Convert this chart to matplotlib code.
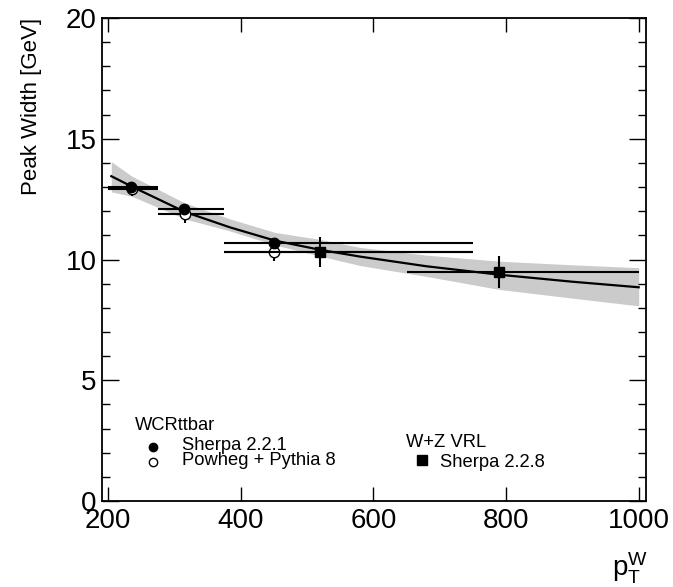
import matplotlib
matplotlib.use("Agg")
import matplotlib.pyplot as plt
from matplotlib.ticker import MultipleLocator, FixedLocator

plt.rcParams['font.family'] = ['Liberation Sans', 'DejaVu Sans']
plt.rcParams['mathtext.fontset'] = 'custom'
plt.rcParams['mathtext.rm'] = 'Liberation Sans'
plt.rcParams['mathtext.it'] = 'Liberation Sans'

# --- data -------------------------------------------------------------
# WCRttbar, Sherpa 2.2.1
sherpa221_x = [235, 315, 450]
sherpa221_y = [13.0, 12.1, 10.7]
sherpa221_yerr = [0.12, 0.15, 0.12]
# WCRttbar, Powheg + Pythia 8
powheg_x = [236, 316, 451]
powheg_y = [12.9, 11.88, 10.3]
powheg_yerr = [0.25, 0.35, 0.35]
# pT bins of the WCRttbar points
ttbar_bin_lo = [200, 275, 375]
ttbar_bin_hi = [275, 375, 750]

# W+Z VRL, Sherpa 2.2.8
sherpa228_x = [520, 790]
sherpa228_y = [10.3, 9.48]
sherpa228_yerr = [0.62, 0.67]
wz_bin_lo = [375, 650]
wz_bin_hi = [750, 1000]

# fitted peak-width curve and its uncertainty band
fit_x = [205, 236, 316, 384, 452, 520, 580, 680, 790, 900, 1000]
fit_y = [13.45, 13.02, 11.97, 11.33, 10.78, 10.40, 10.12, 9.72, 9.37, 9.08, 8.85]
band_hi = [14.05, 13.45, 12.34, 11.68, 11.12, 10.83, 10.50, 10.18, 9.93, 9.78, 9.66]
band_lo = [12.80, 12.62, 11.68, 11.18, 10.60, 10.14, 9.75, 9.30, 8.76, 8.40, 8.08]

x_ticks = [200, 400, 600, 800, 1000]

# --- figure -----------------------------------------------------------
W, H = 673, 587
fig = plt.figure(figsize=(W / 100, H / 100), dpi=100)
ax = fig.add_axes([102 / W, 1 - 501 / H, 544 / W, 483 / H])


def fx(px):
    return px / W


def fy(py):
    return 1 - py / H


ax.fill_between(fit_x, band_lo, band_hi, color='#cbcbcb', lw=0, zorder=1)
ax.plot(fit_x, fit_y, color='black', lw=1.6, zorder=2)


def xerr_of(xs, lo, hi):
    return [[x - l for x, l in zip(xs, lo)], [h - x for x, h in zip(xs, hi)]]


ax.errorbar(powheg_x, powheg_y, yerr=powheg_yerr,
            xerr=xerr_of(powheg_x, ttbar_bin_lo, ttbar_bin_hi),
            fmt='o', ms=7.5, mfc='white', mec='black', mew=1.0,
            ecolor='black', elinewidth=1.5, capsize=0, zorder=3)
ax.errorbar(sherpa221_x, sherpa221_y, yerr=sherpa221_yerr,
            xerr=xerr_of(sherpa221_x, ttbar_bin_lo, ttbar_bin_hi),
            fmt='o', ms=7.5, mfc='black', mec='black',
            ecolor='black', elinewidth=1.5, capsize=0, zorder=4)
ax.errorbar(sherpa228_x, sherpa228_y, yerr=sherpa228_yerr,
            xerr=xerr_of(sherpa228_x, wz_bin_lo, wz_bin_hi),
            fmt='s', ms=7.5, mfc='black', mec='black',
            ecolor='black', elinewidth=1.5, capsize=0, zorder=4)

ax.set_xlim(191, 1011)
ax.set_ylim(0, 20)

ax.xaxis.set_major_locator(FixedLocator(x_ticks))
ax.yaxis.set_major_locator(MultipleLocator(5))
ax.yaxis.set_minor_locator(MultipleLocator(1))
ax.tick_params(axis='both', which='both', direction='in',
               top=True, right=True, width=1.0, colors='black')
ax.tick_params(axis='x', which='major', length=10, pad=5, labelsize=20)
ax.tick_params(axis='y', which='major', length=12, pad=4, labelsize=20)
ax.tick_params(axis='y', which='minor', length=6)
for sp in ax.spines.values():
    sp.set_linewidth(1.3)

ax.set_ylabel('Peak Width [GeV]', fontsize=16, loc='top')
ax.yaxis.set_label_coords(-0.11, 1.0)

fig.text(fx(648), fy(576), r'$\mathregular{p_{T}^{W}}$', fontsize=20,
         ha='right', va='baseline')

# legend block
fs = 13.2
fig.text(fx(135), fy(430), 'WCRttbar', fontsize=fs, va='baseline')
fig.text(fx(182), fy(450), 'Sherpa 2.2.1', fontsize=fs, va='baseline')
fig.text(fx(182), fy(465), 'Powheg + Pythia 8', fontsize=fs, va='baseline')
fig.text(fx(406), fy(447), 'W+Z VRL', fontsize=fs, va='baseline')
fig.text(fx(440), fy(467), 'Sherpa 2.2.8', fontsize=fs, va='baseline')

fig.add_artist(plt.Line2D([fx(153)], [fy(446.5)], marker='o', ms=6,
                          mfc='black', mec='black', ls='none'))
fig.add_artist(plt.Line2D([fx(153)], [fy(461.5)], marker='o', ms=6,
                          mfc='white', mec='black', mew=1.0, ls='none'))
fig.add_artist(plt.Line2D([fx(422)], [fy(460)], marker='s', ms=6.5,
                          mfc='black', mec='black', ls='none'))

fig.savefig('out.png', dpi=100)
